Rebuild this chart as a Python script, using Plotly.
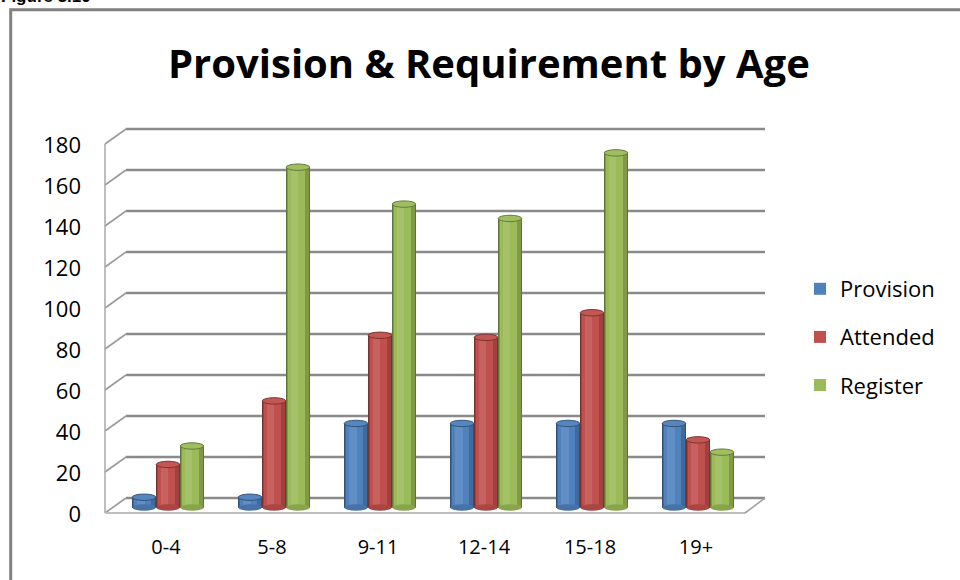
import plotly.graph_objects as go

# ---- data ----
categories = ["0-4", "5-8", "9-11", "12-14", "15-18", "19+"]
provision = [5, 5, 41, 41, 41, 41]
attended = [21, 52, 84, 83, 95, 33]
register = [30, 166, 148, 141, 173, 27]
series_names = ["Provision", "Attended", "Register"]
series_values = [provision, attended, register]
y_ticks = list(range(0, 181, 20))

# ---- styling ----
base_colors = ["#4F81BD", "#C0504D", "#9BBB59"]
FONT = "Open Sans"

W, H = 960, 580
L, R, T, B = 100, 190, 125, 60
PX_PER_CAT = 106.0
PX_PER_UNIT = 2.05
CAT0_PX = 168.0
BASE_PX = 507.5

plot_w = W - L - R
plot_h = H - T - B
x_lo = (L - CAT0_PX) / PX_PER_CAT
x_hi = x_lo + plot_w / PX_PER_CAT
y_lo = -((H - B) - BASE_PX) / PX_PER_UNIT
y_hi = y_lo + plot_h / PX_PER_UNIT


def xd(px):
    return x_lo + (px - L) / PX_PER_CAT


def dy(px):
    return px / PX_PER_UNIT


def xp(px):
    return (px - L) / plot_w


def yp(py):
    return (H - B - py) / plot_h


def mix(hex_color, f):
    h = hex_color.lstrip("#")
    rgb = [int(h[i:i + 2], 16) for i in (0, 2, 4)]
    if f >= 0:
        rgb = [round(c + (255 - c) * f) for c in rgb]
    else:
        rgb = [round(c * (1 + f)) for c in rgb]
    return "#" + "".join(f"{c:02x}" for c in rgb)


# 3-D box: back wall and front edges
FL, BL, FR, BR = xd(105), xd(126), xd(745), xd(765)
BACK_UP = dy(9.5)
FRONT_DN = dy(-5.5)
GRID = "#8a8a8a"

shapes = []
for v in y_ticks:
    shapes.append(dict(type="line", xref="x", yref="y", layer="below",
                       x0=BL, x1=BR, y0=v + BACK_UP, y1=v + BACK_UP,
                       line=dict(color=GRID, width=2.6)))
    shapes.append(dict(type="line", xref="x", yref="y", layer="below",
                       x0=FL, x1=BL, y0=v + FRONT_DN, y1=v + BACK_UP,
                       line=dict(color="#9a9a9a", width=1.6)))
shapes.append(dict(type="line", xref="x", yref="y", layer="below",
                   x0=FL, x1=FL, y0=FRONT_DN, y1=y_ticks[-1] + FRONT_DN,
                   line=dict(color="#a8a8a8", width=1.5)))
shapes.append(dict(type="line", xref="x", yref="y", layer="below",
                   x0=FL, x1=FR, y0=FRONT_DN, y1=FRONT_DN,
                   line=dict(color="#bdbdbd", width=2.2)))
shapes.append(dict(type="line", xref="x", yref="y", layer="below",
                   x0=FR, x1=BR, y0=FRONT_DN, y1=BACK_UP,
                   line=dict(color="#a0a0a0", width=1.6)))

# outer chart frame
shapes.append(dict(type="rect", xref="paper", yref="paper", layer="above",
                   x0=xp(10.7), x1=xp(1100), y0=yp(700), y1=yp(9.7),
                   line=dict(color="#808080", width=3), fillcolor="rgba(0,0,0,0)"))

# ---- cylinders ----
BAR_W = 0.222
STEP = 0.226
ELL = dy(3.2)
# (left fraction, right fraction, lightness shift)
shading = [(0.0, 1.0, -0.38), (0.05, 0.96, -0.18), (0.09, 0.80, 0.0), (0.20, 0.52, 0.10)]

x_idx = list(range(len(categories)))
fig = go.Figure()
for s, (name, vals, col) in enumerate(zip(series_names, series_values, base_colors)):
    left = (s - 1) * STEP - BAR_W / 2
    for k, (lf, rf, shift) in enumerate(shading):
        fig.add_trace(go.Bar(
            x=x_idx, y=vals, name=name, legendgroup=name,
            showlegend=(k == 2),
            offset=left + lf * BAR_W, width=(rf - lf) * BAR_W,
            marker=dict(color=mix(col, shift), line=dict(width=0)),
            hoverinfo="skip" if k != 2 else None,
        ))
    for i, v in zip(x_idx, vals):
        cx0 = i + left
        cx1 = i + left + BAR_W
        # rounded base
        shapes.append(dict(type="circle", xref="x", yref="y", layer="above",
                           x0=cx0, x1=cx1, y0=-ELL, y1=ELL,
                           fillcolor=mix(col, -0.12), line=dict(width=0)))
        # top face
        shapes.append(dict(type="circle", xref="x", yref="y", layer="above",
                           x0=cx0, x1=cx1, y0=v - ELL, y1=v + ELL,
                           fillcolor=mix(col, 0.04),
                           line=dict(color=mix(col, -0.35), width=1)))

annotations = [
    dict(text="<b>Provision & Requirement by Age</b>", xref="paper", yref="paper",
         x=xp(489), y=yp(62), xanchor="center", yanchor="middle", showarrow=False,
         font=dict(family=FONT, size=40, color="#000000")),
    dict(text="<b>Figure 3.10</b>", xref="paper", yref="paper",
         x=xp(-1), y=yp(-4), xanchor="left", yanchor="middle", showarrow=False,
         font=dict(family="Liberation Sans", size=17, color="#000000")),
]

fig.update_layout(
    width=W, height=H,
    margin=dict(l=L, r=R, t=T, b=B, pad=0),
    paper_bgcolor="white", plot_bgcolor="white",
    barmode="overlay", bargap=0,
    shapes=shapes, annotations=annotations,
    showlegend=True,
    legend=dict(x=xp(800), xanchor="left", y=yp(268), yanchor="top",
                font=dict(family=FONT, size=22, color="#000000"),
                tracegroupgap=16.5, bgcolor="rgba(0,0,0,0)", borderwidth=0),
    xaxis=dict(range=[x_lo, x_hi], tickmode="array", tickvals=x_idx, ticktext=categories,
               showgrid=False, zeroline=False, showline=False, ticks="",
               ticklabelstandoff=13, ticklabelshift=-2,
               tickfont=dict(family=FONT, size=20, color="#000000")),
    yaxis=dict(range=[y_lo, y_hi], tickmode="array", tickvals=y_ticks,
               ticktext=[str(v) for v in y_ticks],
               showgrid=False, zeroline=False, showline=False, ticks="",
               ticklabelstandoff=18, ticklabelshift=7,
               tickfont=dict(family=FONT, size=22, color="#000000")),
)

fig.write_html("out.html")
